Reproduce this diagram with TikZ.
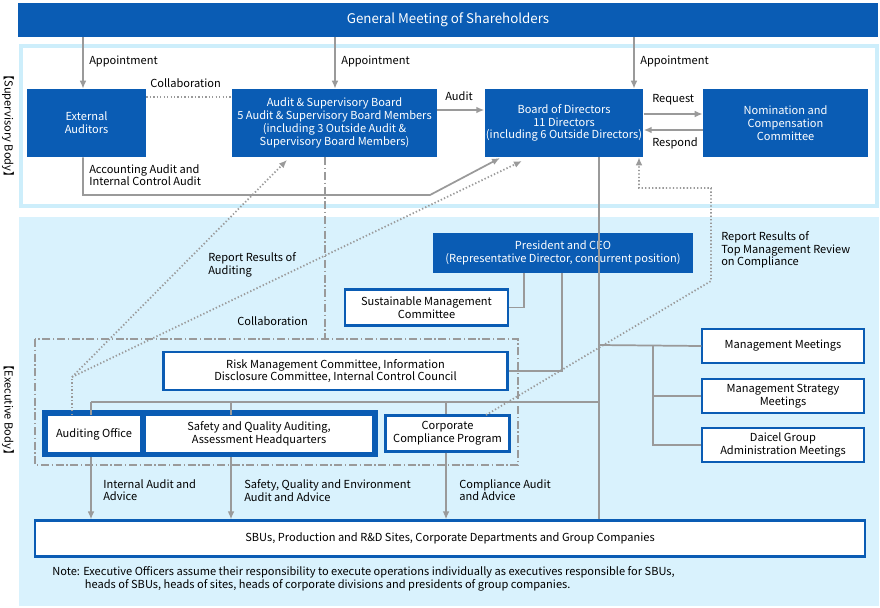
\documentclass[tikz,border=0pt]{standalone}
\usepackage{fontspec}
\setmainfont{Noto Sans CJK JP}
\usetikzlibrary{arrows.meta, positioning}
\definecolor{corpblue}{HTML}{0A5CB4}
\definecolor{skyfill}{HTML}{D9F2FD}
\definecolor{skyline}{HTML}{CDEEFB}
\definecolor{wire}{HTML}{9A9A9A}
\tikzstyle{block} = [rectangle, align=center, inner sep=1pt, font=\fontsize{8.3}{9.6}\selectfont]
\tikzstyle{dark} = [block, fill=corpblue, text=white]
\tikzstyle{light} = [block, draw=corpblue, line width=1.6pt, fill=white]
\tikzstyle{label} = [align=left, anchor=north west, inner sep=0pt, font=\fontsize{8.3}{9.6}\selectfont]
\tikzstyle{link} = [draw=wire, line width=1.3pt]
\tikzstyle{arrow} = [link, -{Latex[length=6pt,width=5pt]}]
\tikzstyle{report} = [draw=wire, line width=1.3pt, dash pattern=on 1pt off 1.6pt]
\tikzstyle{collab} = [draw=wire, line width=1.3pt, dash pattern=on 6pt off 2pt on 1pt off 2pt]

\begin{document}
\begin{tikzpicture}[x=0.75pt, y=-0.75pt]
    \useasboundingbox (0,0) rectangle (880,607);

    % Panels.
    \fill [skyline] (19,44) rectangle (879,208);
    \fill [white] (23,48) rectangle (875,204);
    \fill [skyfill] (19,217) rectangle (879,606);
    \node [rotate=-90, font=\fontsize{8.3}{9.6}\selectfont] at (8,126) {【Supervisory Body】};
    \node [rotate=-90, font=\fontsize{8.3}{9.6}\selectfont] at (8,410) {【Executive Body】};

    % Supervisory body.
    \node (meeting) [dark, minimum width=645pt, minimum height=25.5pt, font=\fontsize{10}{12}\selectfont] at (448,20) {General Meeting of Shareholders};
    \node (external) [dark, minimum width=89.25pt, minimum height=51pt] at (86.5,123) {External\\Auditors};
    \node (auditboard) [dark, minimum width=153.75pt, minimum height=51pt] at (334.5,123) {Audit \& Supervisory Board\\5 Audit \& Supervisory Board Members\\(including 3 Outside Audit \&\\Supervisory Board Members)};
    \node (directors) [dark, minimum width=118.5pt, minimum height=51pt] at (564,123) {Board of Directors\\11 Directors\\(including 6 Outside Directors)};
    \node (nomination) [dark, minimum width=123.75pt, minimum height=51pt] at (785.5,123) {Nomination and\\Compensation\\Committee};

    % Executive body.
    \node (president) [dark, minimum width=195pt, minimum height=30pt] at (563,253) {President and CEO\\(Representative Director, concurrent position)};
    \node (sustain) [light, minimum width=122pt, minimum height=27pt] at (426.5,307.5) {Sustainable Management\\Committee};
    \node (risk) [light, minimum width=258pt, minimum height=29pt] at (335.5,371) {Risk Management Committee, Information\\Disclosure Committee, Internal Control Council};
    \node (mgmt) [light, minimum width=121pt, minimum height=26pt] at (783,346) {Management Meetings};
    \node (strategy) [light, minimum width=121pt, minimum height=26pt] at (783,396) {Management Strategy\\Meetings};
    \node (group) [light, minimum width=121pt, minimum height=26pt] at (783,445) {Daicel Group\\Administration Meetings};
    \node (auditunit) [dark, minimum width=252pt, minimum height=35.25pt] at (210,433.5) {};
    \node (office) [light, draw=none, minimum width=69pt, minimum height=27pt] at (94,434) {Auditing Office};
    \node (safety) [light, draw=none, minimum width=169.5pt, minimum height=27pt] at (259,434) {Safety and Quality Auditing,\\Assessment Headquarters};
    \node (compliance) [light, minimum width=93pt, minimum height=27pt] at (447.5,433.5) {Corporate\\Compliance Program};
    \node (sbu) [light, minimum width=622pt, minimum height=27pt] at (450,538.5) {SBUs, Production and R\&D Sites, Corporate Departments and Group Companies};

    % Corners.
    \coordinate (accbend) at (83,195);
    \coordinate (accturn) at (430,195);
    \coordinate (office top) at (72,377);
    \coordinate (comp turn) at (711,281);
    \coordinate (comp top) at (711,188);
    \coordinate (comp left) at (639,188);
    \coordinate (bus west) at (91,402);
    \coordinate (bus east) at (599,402);
    \coordinate (branch) at (653,345);

    % Collaboration frame.
    \draw [collab] (35,339) rectangle (518,465);
    \draw [collab] (auditboard.south -| 325,0) -- (325,339);
    \node [label] at (237,316) {Collaboration};

    % Arrows.
    \foreach \x/\n in {83/external, 335/auditboard, 634/directors} {
        \draw [arrow] (meeting.south -| \x,0) -- (\n.north -| \x,0);
        \node [label] at (\x+6,56) {Appointment};
    }
    \draw [report] (external.east |- 0,97) -- (auditboard.west |- 0,97);
    \node [label] at (150,78) {Collaboration};
    \draw [arrow] (auditboard.east |- 0,110) -- (directors.west |- 0,110);
    \node [label] at (445,91) {Audit};
    \draw [arrow] (directors.east |- 0,114) -- (nomination.west |- 0,114);
    \node [label] at (652,94) {Request};
    \draw [arrow] (nomination.west |- 0,130) -- (directors.east |- 0,130);
    \node [label] at (652,137) {Respond};
    \draw [arrow] (external.south -| accbend) -- (accbend) -- (accturn) -- (500,158);
    \node [label] at (89,164) {Accounting Audit and\\Internal Control Audit};

    % Reports.
    \draw [report] (office.north -| office top) -- (office top);
    \draw [report, -{Latex[length=6pt,width=5pt]}] (office top) -- (287,160);
    \draw [report, -{Latex[length=6pt,width=5pt]}] (office top) -- (522,161);
    \node [label] at (208,252) {Report Results of\\Auditing};
    \draw [report, -{Latex[length=6pt,width=5pt]}] (486,415) -- (comp turn) -- (comp top) -- (comp left) -- (directors.south -| comp left);
    \node [label] at (721,231) {Report Results of\\Top Management Review\\on Compliance};

    % Lines of command.
    \draw [link] (directors.south -| bus east) -- (sbu.north -| bus east);
    \draw [link] (president.south -| 524,0) |- (sustain.east);
    \draw [link] (president.south -| 562,0) |- (risk.east);
    \draw [link] (bus east |- branch) -- (mgmt.west);
    \draw [link] (branch) |- (strategy.west);
    \draw [link] (branch) |- (group.west);
    \draw [link] (bus west) -- (bus east);
    \foreach \x/\n in {91/office, 231/safety, 446/compliance} {
        \draw [link] (\x,402) -- (\n.north -| \x,0);
    }
    \draw [arrow] (auditunit.south -| 91,0) -- (sbu.north -| 91,0);
    \draw [arrow] (auditunit.south -| 231,0) -- (sbu.north -| 231,0);
    \draw [arrow] (compliance.south -| 446,0) -- (sbu.north -| 446,0);
    \node [label] at (103,479) {Internal Audit and\\Advice};
    \node [label] at (244,479) {Safety, Quality and Environment\\Audit and Advice};
    \node [label] at (459,479) {Compliance Audit\\and Advice};

    % Note.
    \node [label] at (52,566) {Note: Executive Officers assume their responsibility to execute operations individually as executives responsible for SBUs,\\\hspace*{24.5pt}heads of SBUs, heads of sites, heads of corporate divisions and presidents of group companies.};
\end{tikzpicture}
\end{document}
